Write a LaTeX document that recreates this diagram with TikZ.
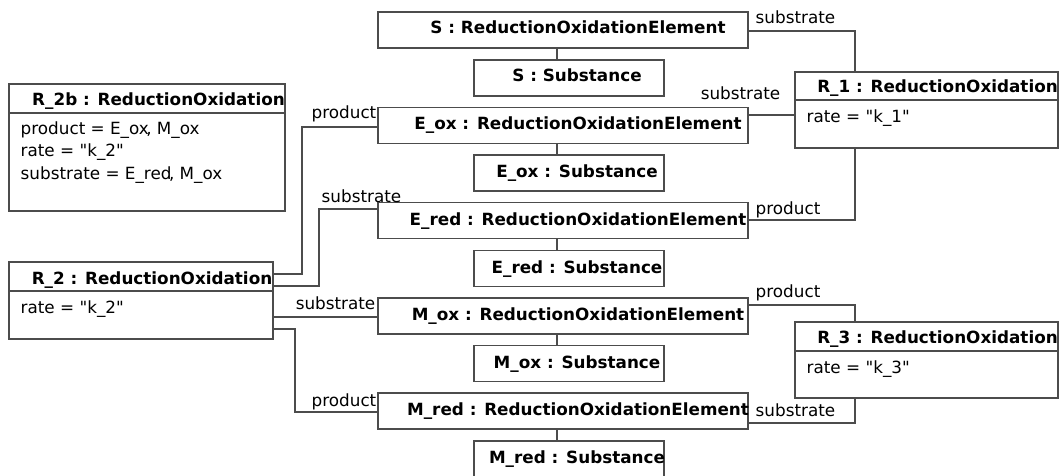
\documentclass[tikz,border=0pt]{standalone}
\usepackage{fontspec}
\setmainfont{DejaVu Sans}
\begin{document}
\begin{tikzpicture}[x=1pt,y=-1pt,
  line width=1.4pt,
  box/.style={draw=black!70, fill=white, rectangle, inner sep=0pt, outer sep=0pt},
  roe/.style={box, minimum width=370pt, minimum height=36pt},
  sub/.style={box, minimum width=190pt, minimum height=36pt},
  rhead/.style={box, minimum width=264pt, minimum height=29pt},
  title/.style={font=\fontsize{16.8pt}{20pt}\selectfont\bfseries, inner sep=0pt, text=black},
  attr/.style={font=\fontsize{16.8pt}{20pt}\selectfont, inner sep=0pt, text=black, anchor=base west},
  role/.style={font=\fontsize{16.8pt}{20pt}\selectfont, inner sep=0pt, text=black},
  wire/.style={draw=black!70, line width=1.4pt}]
\useasboundingbox (0,0) rectangle (1060,476);

% ---- element / substance columns ----
\node[roe] (Sroe)    at (563,30)  {};
\node[sub] (Ssub)    at (569,78)  {};
\node[roe] (Eoxroe)  at (563,125.5) {};
\node[sub] (Eoxsub)  at (569,173) {};
\node[roe] (Eredroe) at (563,220.5) {};
\node[sub] (Eredsub) at (569,268.5) {};
\node[roe] (Moxroe)  at (563,316) {};
\node[sub] (Moxsub)  at (569,363.5) {};
\node[roe] (Mredroe) at (563,411) {};
\node[sub] (Mredsub) at (569,459) {};

\node[title, anchor=base] (Sroe-t)    at (578,34)  {S : ReductionOxidationElement};
\node[title, anchor=base] (Ssub-t)    at (577,82)  {S : Substance};
\node[title, anchor=base] (Eoxroe-t)  at (578,130) {E\_ox : ReductionOxidationElement};
\node[title, anchor=base] (Eoxsub-t)  at (577,178) {E\_ox : Substance};
\node[title, anchor=base] (Eredroe-t) at (578,225) {E\_red : ReductionOxidationElement};
\node[title, anchor=base] (Eredsub-t) at (577,273) {E\_red : Substance};
\node[title, anchor=base] (Moxroe-t)  at (578,320) {M\_ox : ReductionOxidationElement};
\node[title, anchor=base] (Moxsub-t)  at (577,368) {M\_ox : Substance};
\node[title, anchor=base] (Mredroe-t) at (578,415) {M\_red : ReductionOxidationElement};
\node[title, anchor=base] (Mredsub-t) at (577,463) {M\_red : Substance};

\foreach \a/\b in {Sroe/Ssub, Eoxroe/Eoxsub, Eredroe/Eredsub, Moxroe/Moxsub, Mredroe/Mredsub}
  \draw[wire] ([xshift=-6pt]\a.south) -- ([xshift=-12pt]\b.north);

% ---- reaction objects ----
% R_2b
\node[box, minimum width=276pt, minimum height=29pt] (R2bh) at (147,98.5) {};
\node[box, minimum width=276pt, minimum height=98pt, anchor=north] (R2bb) at (R2bh.south) {};
\node[title, anchor=base] (R2bh-t) at (158.5,106) {R\_2b : ReductionOxidation};
\node[attr] (R2bb-a1) at (20,135) {product = E\_ox\kern-2.5pt, M\_ox};
\node[attr] (R2bb-a2) at (20,157) {rate = \textquotedbl k\_2\textquotedbl};
\node[attr] (R2bb-a3) at (20,179) {substrate = E\_red\kern-2.5pt, M\_ox};

% R_1
\node[box, minimum width=263pt, minimum height=28pt] (R1h) at (926.5,86) {};
\node[box, minimum width=263pt, minimum height=48pt, anchor=north] (R1b) at (R1h.south) {};
\node[title, anchor=base] (R1h-t) at (937.5,93) {R\_1 : ReductionOxidation};
\node[attr] (R1b-a1) at (806,123) {rate = \textquotedbl k\_1\textquotedbl};

% R_2
\node[rhead] (R2h) at (141,276.5) {};
\node[box, minimum width=264pt, minimum height=48pt, anchor=north] (R2b) at (R2h.south) {};
\node[title, anchor=base] (R2h-t) at (152,284) {R\_2 : ReductionOxidation};
\node[attr] (R2b-a1) at (20,313) {rate = \textquotedbl k\_2\textquotedbl};

% R_3
\node[box, minimum width=263pt, minimum height=29pt] (R3h) at (926.5,336.5) {};
\node[box, minimum width=263pt, minimum height=47pt, anchor=north] (R3b) at (R3h.south) {};
\node[title, anchor=base] (R3h-t) at (937.5,343) {R\_3 : ReductionOxidation};
\node[attr] (R3b-a1) at (806,373) {rate = \textquotedbl k\_3\textquotedbl};

% ---- links ----
\coordinate (c1) at (855,31);
\draw[wire] (Sroe.east |- c1) -- (c1) -- (c1 |- R1h.north);
\node[role, anchor=base west] (l1) at (755,24) {substrate};

\coordinate (c2) at (795,115);
\draw[wire] (Eoxroe.east |- c2) -- (R1b.west |- c2);
\node[role, anchor=base east] (l2) at (781,100) {substrate};

\coordinate (c3) at (855,220);
\draw[wire] (c3 |- R1b.south) -- (c3) -- (Eredroe.east |- c3);
\node[role, anchor=base west] (l3) at (755,214) {product};

\coordinate (c4) at (855,305);
\draw[wire] (Moxroe.east |- c4) -- (c4) -- (c4 |- R3h.north);
\node[role, anchor=base west] (l4) at (755,297) {product};

\coordinate (c5) at (855,423);
\draw[wire] (c5 |- R3b.south) -- (c5) -- (Mredroe.east |- c5);
\node[role, anchor=base west] (l5) at (755,416) {substrate};

\coordinate (c6a) at (302,274);
\coordinate (c6b) at (302,127);
\draw[wire] (R2h.east |- c6a) -- (c6a) -- (c6b) -- (Eoxroe.west |- c6b);
\node[role, anchor=base east] (l6) at (377,119) {product};

\coordinate (c7a) at (319,286);
\coordinate (c7b) at (319,209);
\draw[wire] (R2h.east |- c7a) -- (c7a) -- (c7b) -- (Eredroe.west |- c7b);
\node[role, anchor=base west] (l7) at (321,202) {substrate};

\coordinate (c8) at (300,317);
\draw[wire] (R2b.east |- c8) -- (Moxroe.west |- c8);
\node[role, anchor=base east] (l8) at (376,309) {substrate};

\coordinate (c9a) at (295,329);
\coordinate (c9b) at (295,412);
\draw[wire] (R2b.east |- c9a) -- (c9a) -- (c9b) -- (Mredroe.west |- c9b);
\node[role, anchor=base east] (l9) at (377,406) {product};
\end{tikzpicture}
\end{document}
